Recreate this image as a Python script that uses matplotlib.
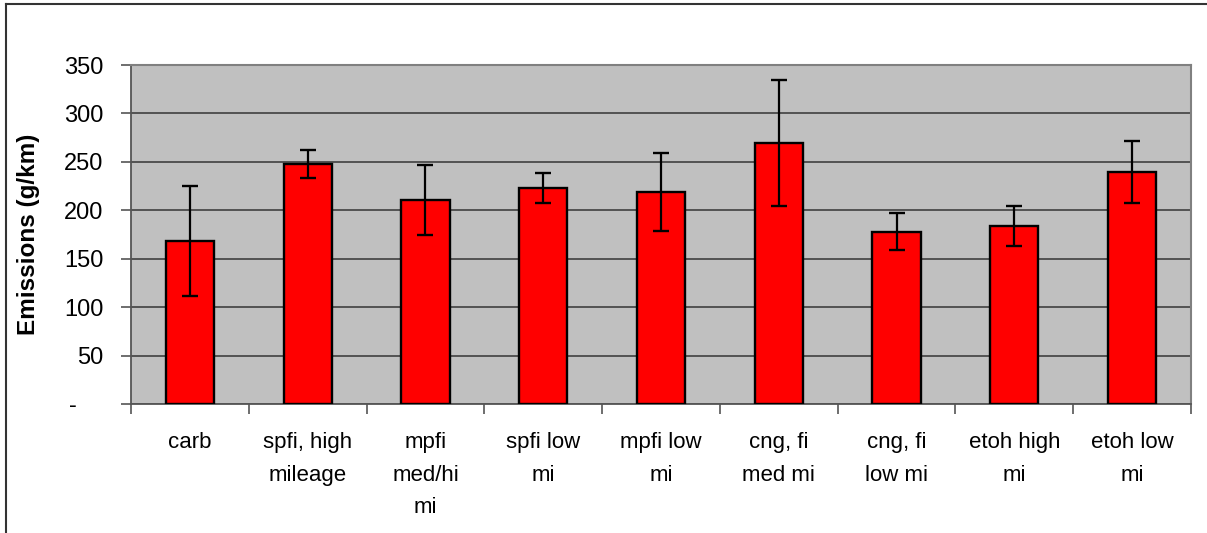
import matplotlib
matplotlib.use("Agg")
import matplotlib.pyplot as plt
from matplotlib.lines import Line2D
import numpy as np

categories = ["carb", "spfi, high\nmileage", "mpfi\nmed/hi\nmi", "spfi low\nmi", "mpfi low\nmi",
              "cng, fi\nmed mi", "cng, fi\nlow mi", "etoh high\nmi", "etoh low\nmi"]
values = [168, 248, 211, 223, 219, 269, 178, 184, 240]
errors = [57, 14.5, 36, 15.5, 40, 65, 19.5, 20.7, 32]
yticks = [0, 50, 100, 150, 200, 250, 300, 350]
ytick_labels = ["-", "50", "100", "150", "200", "250", "300", "350"]

plt.rcParams['font.family'] = ['Liberation Sans', 'DejaVu Sans']

W, H = 1207, 533
fig = plt.figure(figsize=(W / 100, H / 100), dpi=100)
fig.patch.set_facecolor("white")
ax = fig.add_axes([131 / W, 1 - 404 / H, (1191 - 131) / W, (404 - 65) / H])
ax.set_facecolor("#c0c0c0")

x = np.arange(len(categories))
ax.bar(x, values, width=0.41, color="#ff0000", edgecolor="black", linewidth=1.7, zorder=3)
ax.errorbar(x, values, yerr=errors, fmt="none", ecolor="black", elinewidth=1.6,
            capsize=5.8, capthick=1.7, zorder=4)

ax.set_xlim(-0.5, len(categories) - 0.5)
ax.set_ylim(0, 350)
ax.set_yticks(yticks)
# accounting-style: dash followed by padding spaces
ax.set_yticklabels([l + "    " if l == "-" else l for l in ytick_labels], fontsize=17)
ax.yaxis.grid(True, color="#4a4a4a", linewidth=1.3, zorder=1)
ax.set_axisbelow(True)

ax.set_xticks(x)
ax.set_xticklabels(categories, fontsize=16, linespacing=1.74, va="top")
ax.tick_params(axis="x", length=0, pad=20)
ax.set_xticks(np.arange(-0.5, len(categories), 1.0), minor=True)
ax.tick_params(axis="x", which="minor", length=7, color="#555555", width=1.2)
ax.tick_params(axis="y", length=7, color="#555555", width=1.2, pad=13)

for s in ["top", "right"]:
    ax.spines[s].set_color("#808080")
    ax.spines[s].set_linewidth(1.5)
for s in ["left", "bottom"]:
    ax.spines[s].set_color("#555555")
    ax.spines[s].set_linewidth(1.3)

ax.set_ylabel("Emissions (g/km)", fontsize=17.5, fontweight="bold", labelpad=17)

# outer chart border (left and top visible)
fig.add_artist(Line2D([6 / W, 6 / W], [0, 1 - 4 / H], transform=fig.transFigure,
                      color="#333333", linewidth=1.5))
fig.add_artist(Line2D([6 / W, 1], [1 - 4 / H, 1 - 4 / H], transform=fig.transFigure,
                      color="#333333", linewidth=1.5))

fig.savefig("out.png", dpi=100)
